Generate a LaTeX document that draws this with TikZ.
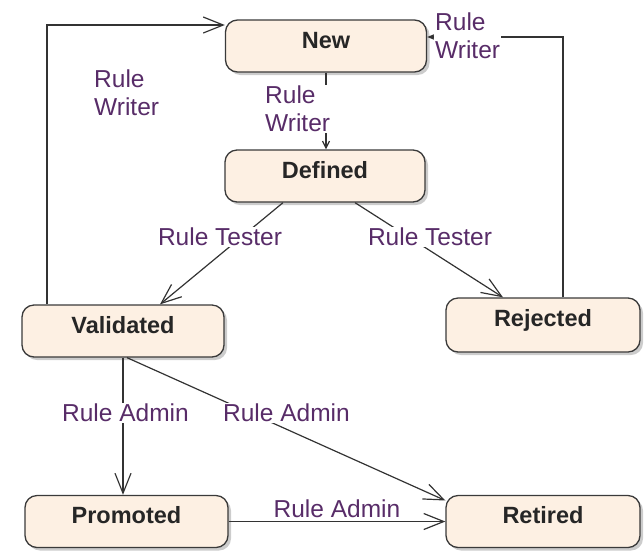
\documentclass[tikz,border=0pt]{standalone}
\usepackage{fontspec}
\setmainfont{Liberation Sans}
\usetikzlibrary{arrows.meta,shadows}
\definecolor{stfill}{HTML}{FDF0E3}
\definecolor{stdraw}{HTML}{3A3A3A}
\definecolor{lnk}{HTML}{333333}
\definecolor{lblc}{RGB}{88,44,104}
\begin{document}
\begin{tikzpicture}[x=1pt,y=-1pt,
  state/.style={draw=stdraw, line width=1.3pt, fill=stfill, rounded corners=12pt,
    drop shadow={shadow xshift=3pt, shadow yshift=-3pt, fill=black!40},
    inner xsep=0pt, inner ysep=0pt, text height=28pt, text depth=24pt,
    font=\fontsize{23.5}{27}\selectfont\bfseries, text=black!85},
  arr/.style={draw=lnk, line width=1.2pt, -{Straight Barb[length=20pt,width=16pt]}},
  smallarr/.style={draw=lnk, line width=1.2pt, -{Straight Barb[length=7pt,width=7pt]}},
  lbl/.style={font=\fontsize{24.5}{28}\selectfont, text=lblc, fill=white, inner sep=1pt, align=left}]
\useasboundingbox (0,0) rectangle (644,550);
% states
\node[state, minimum width=201pt] (New) at (326,46) {New};
\node[state, minimum width=200pt] (Defined) at (325,176) {Defined};
\node[state, minimum width=202pt] (Validated) at (123,331) {Validated};
\node[state, minimum width=194pt, text depth=26pt] (Rejected) at (543,325) {Rejected};
\node[state, minimum width=203pt] (Promoted) at (126.5,521.5) {Promoted};
\node[state, minimum width=194pt] (Retired) at (543,521.5) {Retired};
% transitions
\draw[arr] ([xshift=-76pt]Validated.north) |- ([yshift=21pt]New.west);
\draw[arr] ([xshift=20pt]Rejected.north) |- ([yshift=9pt]New.east);
\draw[smallarr] (New.south) -- (New.south |- Defined.north);
\draw[arr] ([xshift=-42pt]Defined.south) -- ([xshift=37pt]Validated.north);
\draw[arr] ([xshift=30pt]Defined.south) -- ([xshift=-40pt]Rejected.north);
\draw[arr] (Validated.south) -- (Validated.south |- Promoted.north);
\draw[arr] ([xshift=4pt]Validated.south) -- ([yshift=21pt]Retired.west);
\draw[arr] (Promoted.east) -- node[lbl, above=2pt, fill=none] (l8) {Rule Admin} (Retired.west);
% labels
\node[lbl, anchor=west] (l1) at (93,92.5) {Rule\\Writer};
\node[lbl, anchor=west] (l2) at (434,36) {Rule\\Writer};
\node[lbl, anchor=west] (l3) at (264,109) {Rule\\Writer};
\node[lbl] (l4) at (220,237) {Rule Tester};
\node[lbl] (l5) at (430,237) {Rule Tester};
\node[lbl] (l6) at (125.5,413) {Rule Admin};
\node[lbl] (l7) at (286.5,413) {Rule Admin};
\end{tikzpicture}
\end{document}
